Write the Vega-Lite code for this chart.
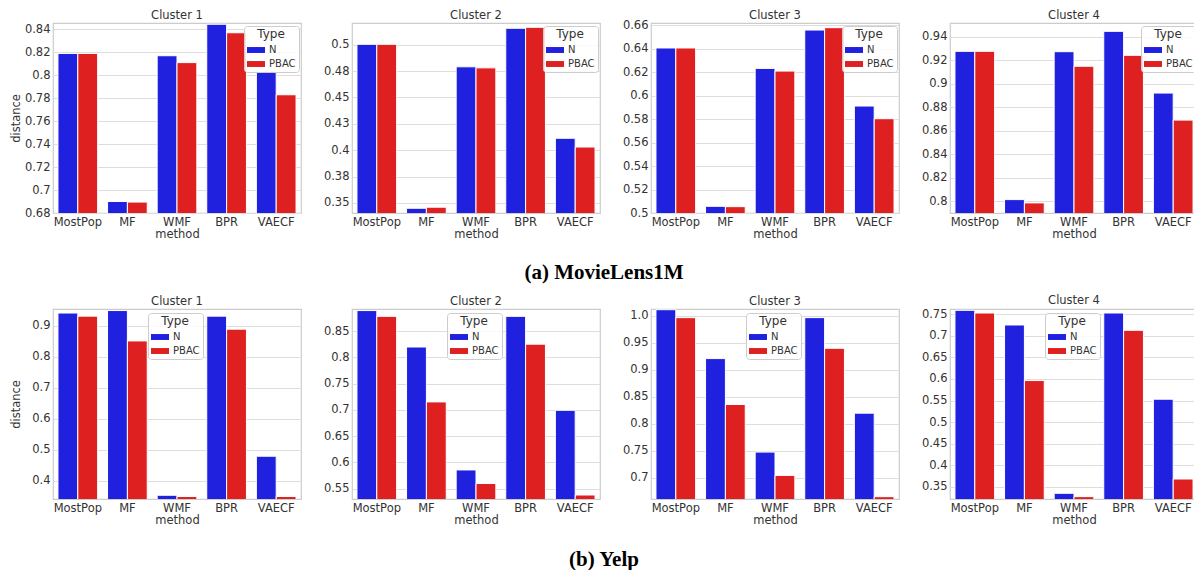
{
  "$schema": "https://vega.github.io/schema/vega-lite/v6.json",
  "padding": {"left": 9, "top": 8, "right": 0, "bottom": 0},
  "background": "white",
  "data": {"values": [
    {"dataset": "MovieLens1M", "cluster": "Cluster 1", "method": "MostPop", "type": "N", "distance": 0.819},
    {"dataset": "MovieLens1M", "cluster": "Cluster 1", "method": "MostPop", "type": "PBAC", "distance": 0.819},
    {"dataset": "MovieLens1M", "cluster": "Cluster 1", "method": "MF", "type": "N", "distance": 0.690},
    {"dataset": "MovieLens1M", "cluster": "Cluster 1", "method": "MF", "type": "PBAC", "distance": 0.6895},
    {"dataset": "MovieLens1M", "cluster": "Cluster 1", "method": "WMF", "type": "N", "distance": 0.817},
    {"dataset": "MovieLens1M", "cluster": "Cluster 1", "method": "WMF", "type": "PBAC", "distance": 0.811},
    {"dataset": "MovieLens1M", "cluster": "Cluster 1", "method": "BPR", "type": "N", "distance": 0.8444},
    {"dataset": "MovieLens1M", "cluster": "Cluster 1", "method": "BPR", "type": "PBAC", "distance": 0.837},
    {"dataset": "MovieLens1M", "cluster": "Cluster 1", "method": "VAECF", "type": "N", "distance": 0.803},
    {"dataset": "MovieLens1M", "cluster": "Cluster 1", "method": "VAECF", "type": "PBAC", "distance": 0.783},
    {"dataset": "MovieLens1M", "cluster": "Cluster 2", "method": "MostPop", "type": "N", "distance": 0.5003},
    {"dataset": "MovieLens1M", "cluster": "Cluster 2", "method": "MostPop", "type": "PBAC", "distance": 0.5003},
    {"dataset": "MovieLens1M", "cluster": "Cluster 2", "method": "MF", "type": "N", "distance": 0.345},
    {"dataset": "MovieLens1M", "cluster": "Cluster 2", "method": "MF", "type": "PBAC", "distance": 0.346},
    {"dataset": "MovieLens1M", "cluster": "Cluster 2", "method": "WMF", "type": "N", "distance": 0.479},
    {"dataset": "MovieLens1M", "cluster": "Cluster 2", "method": "WMF", "type": "PBAC", "distance": 0.478},
    {"dataset": "MovieLens1M", "cluster": "Cluster 2", "method": "BPR", "type": "N", "distance": 0.5155},
    {"dataset": "MovieLens1M", "cluster": "Cluster 2", "method": "BPR", "type": "PBAC", "distance": 0.5164},
    {"dataset": "MovieLens1M", "cluster": "Cluster 2", "method": "VAECF", "type": "N", "distance": 0.4113},
    {"dataset": "MovieLens1M", "cluster": "Cluster 2", "method": "VAECF", "type": "PBAC", "distance": 0.403},
    {"dataset": "MovieLens1M", "cluster": "Cluster 3", "method": "MostPop", "type": "N", "distance": 0.6407},
    {"dataset": "MovieLens1M", "cluster": "Cluster 3", "method": "MostPop", "type": "PBAC", "distance": 0.6407},
    {"dataset": "MovieLens1M", "cluster": "Cluster 3", "method": "MF", "type": "N", "distance": 0.5057},
    {"dataset": "MovieLens1M", "cluster": "Cluster 3", "method": "MF", "type": "PBAC", "distance": 0.5054},
    {"dataset": "MovieLens1M", "cluster": "Cluster 3", "method": "WMF", "type": "N", "distance": 0.6233},
    {"dataset": "MovieLens1M", "cluster": "Cluster 3", "method": "WMF", "type": "PBAC", "distance": 0.621},
    {"dataset": "MovieLens1M", "cluster": "Cluster 3", "method": "BPR", "type": "N", "distance": 0.656},
    {"dataset": "MovieLens1M", "cluster": "Cluster 3", "method": "BPR", "type": "PBAC", "distance": 0.658},
    {"dataset": "MovieLens1M", "cluster": "Cluster 3", "method": "VAECF", "type": "N", "distance": 0.5912},
    {"dataset": "MovieLens1M", "cluster": "Cluster 3", "method": "VAECF", "type": "PBAC", "distance": 0.5804},
    {"dataset": "MovieLens1M", "cluster": "Cluster 4", "method": "MostPop", "type": "N", "distance": 0.9275},
    {"dataset": "MovieLens1M", "cluster": "Cluster 4", "method": "MostPop", "type": "PBAC", "distance": 0.9275},
    {"dataset": "MovieLens1M", "cluster": "Cluster 4", "method": "MF", "type": "N", "distance": 0.8014},
    {"dataset": "MovieLens1M", "cluster": "Cluster 4", "method": "MF", "type": "PBAC", "distance": 0.7986},
    {"dataset": "MovieLens1M", "cluster": "Cluster 4", "method": "WMF", "type": "N", "distance": 0.9272},
    {"dataset": "MovieLens1M", "cluster": "Cluster 4", "method": "WMF", "type": "PBAC", "distance": 0.9148},
    {"dataset": "MovieLens1M", "cluster": "Cluster 4", "method": "BPR", "type": "N", "distance": 0.9445},
    {"dataset": "MovieLens1M", "cluster": "Cluster 4", "method": "BPR", "type": "PBAC", "distance": 0.9241},
    {"dataset": "MovieLens1M", "cluster": "Cluster 4", "method": "VAECF", "type": "N", "distance": 0.892},
    {"dataset": "MovieLens1M", "cluster": "Cluster 4", "method": "VAECF", "type": "PBAC", "distance": 0.869},
    {"dataset": "Yelp", "cluster": "Cluster 1", "method": "MostPop", "type": "N", "distance": 0.941},
    {"dataset": "Yelp", "cluster": "Cluster 1", "method": "MostPop", "type": "PBAC", "distance": 0.931},
    {"dataset": "Yelp", "cluster": "Cluster 1", "method": "MF", "type": "N", "distance": 0.949},
    {"dataset": "Yelp", "cluster": "Cluster 1", "method": "MF", "type": "PBAC", "distance": 0.851},
    {"dataset": "Yelp", "cluster": "Cluster 1", "method": "WMF", "type": "N", "distance": 0.353},
    {"dataset": "Yelp", "cluster": "Cluster 1", "method": "WMF", "type": "PBAC", "distance": 0.349},
    {"dataset": "Yelp", "cluster": "Cluster 1", "method": "BPR", "type": "N", "distance": 0.931},
    {"dataset": "Yelp", "cluster": "Cluster 1", "method": "BPR", "type": "PBAC", "distance": 0.889},
    {"dataset": "Yelp", "cluster": "Cluster 1", "method": "VAECF", "type": "N", "distance": 0.479},
    {"dataset": "Yelp", "cluster": "Cluster 1", "method": "VAECF", "type": "PBAC", "distance": 0.349},
    {"dataset": "Yelp", "cluster": "Cluster 2", "method": "MostPop", "type": "N", "distance": 0.889},
    {"dataset": "Yelp", "cluster": "Cluster 2", "method": "MostPop", "type": "PBAC", "distance": 0.878},
    {"dataset": "Yelp", "cluster": "Cluster 2", "method": "MF", "type": "N", "distance": 0.8196},
    {"dataset": "Yelp", "cluster": "Cluster 2", "method": "MF", "type": "PBAC", "distance": 0.715},
    {"dataset": "Yelp", "cluster": "Cluster 2", "method": "WMF", "type": "N", "distance": 0.5854},
    {"dataset": "Yelp", "cluster": "Cluster 2", "method": "WMF", "type": "PBAC", "distance": 0.5595},
    {"dataset": "Yelp", "cluster": "Cluster 2", "method": "BPR", "type": "N", "distance": 0.878},
    {"dataset": "Yelp", "cluster": "Cluster 2", "method": "BPR", "type": "PBAC", "distance": 0.825},
    {"dataset": "Yelp", "cluster": "Cluster 2", "method": "VAECF", "type": "N", "distance": 0.699},
    {"dataset": "Yelp", "cluster": "Cluster 2", "method": "VAECF", "type": "PBAC", "distance": 0.5376},
    {"dataset": "Yelp", "cluster": "Cluster 3", "method": "MostPop", "type": "N", "distance": 1.011},
    {"dataset": "Yelp", "cluster": "Cluster 3", "method": "MostPop", "type": "PBAC", "distance": 0.9963},
    {"dataset": "Yelp", "cluster": "Cluster 3", "method": "MF", "type": "N", "distance": 0.9205},
    {"dataset": "Yelp", "cluster": "Cluster 3", "method": "MF", "type": "PBAC", "distance": 0.8355},
    {"dataset": "Yelp", "cluster": "Cluster 3", "method": "WMF", "type": "N", "distance": 0.7474},
    {"dataset": "Yelp", "cluster": "Cluster 3", "method": "WMF", "type": "PBAC", "distance": 0.7043},
    {"dataset": "Yelp", "cluster": "Cluster 3", "method": "BPR", "type": "N", "distance": 0.9963},
    {"dataset": "Yelp", "cluster": "Cluster 3", "method": "BPR", "type": "PBAC", "distance": 0.9396},
    {"dataset": "Yelp", "cluster": "Cluster 3", "method": "VAECF", "type": "N", "distance": 0.8195},
    {"dataset": "Yelp", "cluster": "Cluster 3", "method": "VAECF", "type": "PBAC", "distance": 0.6649},
    {"dataset": "Yelp", "cluster": "Cluster 4", "method": "MostPop", "type": "N", "distance": 0.7593},
    {"dataset": "Yelp", "cluster": "Cluster 4", "method": "MostPop", "type": "PBAC", "distance": 0.7531},
    {"dataset": "Yelp", "cluster": "Cluster 4", "method": "MF", "type": "N", "distance": 0.7253},
    {"dataset": "Yelp", "cluster": "Cluster 4", "method": "MF", "type": "PBAC", "distance": 0.5963},
    {"dataset": "Yelp", "cluster": "Cluster 4", "method": "WMF", "type": "N", "distance": 0.3346},
    {"dataset": "Yelp", "cluster": "Cluster 4", "method": "WMF", "type": "PBAC", "distance": 0.3269},
    {"dataset": "Yelp", "cluster": "Cluster 4", "method": "BPR", "type": "N", "distance": 0.7531},
    {"dataset": "Yelp", "cluster": "Cluster 4", "method": "BPR", "type": "PBAC", "distance": 0.7129},
    {"dataset": "Yelp", "cluster": "Cluster 4", "method": "VAECF", "type": "N", "distance": 0.553},
    {"dataset": "Yelp", "cluster": "Cluster 4", "method": "VAECF", "type": "PBAC", "distance": 0.3678}
  ]},
  "config": {
    "font": "DejaVu Sans",
    "view": {"stroke": "#cccccc", "strokeWidth": 1.2},
    "axis": {"labelFont": "DejaVu Sans", "labelFontSize": 11.5, "labelColor": "#333333", "titleFont": "DejaVu Sans", "titleFontSize": 11.5, "titleFontWeight": "normal", "titleColor": "#333333", "ticks": false, "domain": false, "gridColor": "#dddddd", "gridWidth": 1.2},
    "axisX": {"labelAngle": 0, "labelPadding": 3, "titlePadding": 1, "grid": false},
    "axisY": {"labelPadding": 3, "titlePadding": 3, "minExtent": 29, "grid": true, "labelExpr": "abs(datum.value - 1) < 0.000001 ? '1.0' : format(datum.value + 0.000000001, '.2~f')"},
    "title": {"font": "DejaVu Sans", "fontSize": 11.5, "fontWeight": "normal", "color": "#333333", "offset": 2, "frame": "group"},
    "legend": {"titleFont": "DejaVu Sans", "titleFontSize": 12, "titleFontWeight": "normal", "titleColor": "#333333", "labelFont": "DejaVu Sans", "labelFontSize": 10, "labelColor": "#333333", "symbolType": "M-1,-0.33H1V0.33H-1Z", "symbolSize": 324, "symbolStrokeWidth": 0, "fillColor": "rgba(255,255,255,0.85)", "strokeColor": "#cccccc", "cornerRadius": 3, "padding": 3, "titleAnchor": "middle", "titlePadding": 0, "rowPadding": -2, "labelOffset": 4, "orient": "none"}
  },
  "resolve": {"scale": {"color": "independent"}, "legend": {"color": "independent"}},
  "spacing": 11,
  "vconcat": [
    {
      "title": {"text": "(a) MovieLens1M", "orient": "bottom", "anchor": "middle", "frame": "bounds", "offset": 21, "font": "Liberation Serif", "fontSize": 21, "fontWeight": "bold", "color": "black"},
      "bounds": "flush",
      "spacing": 51,
      "resolve": {"scale": {"color": "independent"}, "legend": {"color": "independent"}},
      "hconcat": [
        {
          "width": 248, "height": 190, "title": "Cluster 1",
          "transform": [{"filter": "datum.dataset == 'MovieLens1M' && datum.cluster == 'Cluster 1'"}],
          "mark": {"type": "bar", "clip": true, "stroke": "white", "strokeWidth": 1},
          "encoding": {
            "x": {"field": "method", "type": "nominal", "sort": ["MostPop", "MF", "WMF", "BPR", "VAECF"], "scale": {"paddingInner": 0.2, "paddingOuter": 0.1}, "axis": {"title": "method"}},
            "xOffset": {"field": "type", "type": "nominal", "sort": ["N", "PBAC"]},
            "y": {"field": "distance", "type": "quantitative", "scale": {"domain": [0.68, 0.8455], "zero": false, "nice": false}, "axis": {"title": "distance", "values": [0.68, 0.7, 0.72, 0.74, 0.76, 0.78, 0.8, 0.82, 0.84]}},
            "color": {"field": "type", "type": "nominal", "scale": {"domain": ["N", "PBAC"], "range": ["#2020df", "#df2020"]}, "legend": {"title": "Type", "legendX": 191, "legendY": 3}}
          }
        },
        {
          "width": 248, "height": 190, "title": "Cluster 2",
          "transform": [{"filter": "datum.dataset == 'MovieLens1M' && datum.cluster == 'Cluster 2'"}],
          "mark": {"type": "bar", "clip": true, "stroke": "white", "strokeWidth": 1},
          "encoding": {
            "x": {"field": "method", "type": "nominal", "sort": ["MostPop", "MF", "WMF", "BPR", "VAECF"], "scale": {"paddingInner": 0.2, "paddingOuter": 0.1}, "axis": {"title": "method"}},
            "xOffset": {"field": "type", "type": "nominal", "sort": ["N", "PBAC"]},
            "y": {"field": "distance", "type": "quantitative", "scale": {"domain": [0.3405, 0.5205], "zero": false, "nice": false}, "axis": {"title": null, "values": [0.35, 0.375, 0.4, 0.425, 0.45, 0.475, 0.5]}},
            "color": {"field": "type", "type": "nominal", "scale": {"domain": ["N", "PBAC"], "range": ["#2020df", "#df2020"]}, "legend": {"title": "Type", "legendX": 191, "legendY": 3}}
          }
        },
        {
          "width": 248, "height": 190, "title": {"text": "Cluster 3", "offset": -2},
          "transform": [{"filter": "datum.dataset == 'MovieLens1M' && datum.cluster == 'Cluster 3'"}],
          "mark": {"type": "bar", "clip": true, "stroke": "white", "strokeWidth": 1},
          "encoding": {
            "x": {"field": "method", "type": "nominal", "sort": ["MostPop", "MF", "WMF", "BPR", "VAECF"], "scale": {"paddingInner": 0.2, "paddingOuter": 0.1}, "axis": {"title": "method"}},
            "xOffset": {"field": "type", "type": "nominal", "sort": ["N", "PBAC"]},
            "y": {"field": "distance", "type": "quantitative", "scale": {"domain": [0.5, 0.662], "zero": false, "nice": false}, "axis": {"title": null, "values": [0.5, 0.52, 0.54, 0.56, 0.58, 0.6, 0.62, 0.64, 0.66]}},
            "color": {"field": "type", "type": "nominal", "scale": {"domain": ["N", "PBAC"], "range": ["#2020df", "#df2020"]}, "legend": {"title": "Type", "legendX": 191, "legendY": 3}}
          }
        },
        {
          "width": 248, "height": 190, "title": "Cluster 4",
          "transform": [{"filter": "datum.dataset == 'MovieLens1M' && datum.cluster == 'Cluster 4'"}],
          "mark": {"type": "bar", "clip": true, "stroke": "white", "strokeWidth": 1},
          "encoding": {
            "x": {"field": "method", "type": "nominal", "sort": ["MostPop", "MF", "WMF", "BPR", "VAECF"], "scale": {"paddingInner": 0.2, "paddingOuter": 0.1}, "axis": {"title": "method"}},
            "xOffset": {"field": "type", "type": "nominal", "sort": ["N", "PBAC"]},
            "y": {"field": "distance", "type": "quantitative", "scale": {"domain": [0.79, 0.9516], "zero": false, "nice": false}, "axis": {"title": null, "values": [0.8, 0.82, 0.84, 0.86, 0.88, 0.9, 0.92, 0.94]}},
            "color": {"field": "type", "type": "nominal", "scale": {"domain": ["N", "PBAC"], "range": ["#2020df", "#df2020"]}, "legend": {"title": "Type", "legendX": 191, "legendY": 3}}
          }
        }
      ]
    },
    {
      "title": {"text": "(b) Yelp", "orient": "bottom", "anchor": "middle", "frame": "bounds", "offset": 22, "font": "Liberation Serif", "fontSize": 21, "fontWeight": "bold", "color": "black"},
      "bounds": "flush",
      "spacing": 51,
      "resolve": {"scale": {"color": "independent"}, "legend": {"color": "independent"}},
      "hconcat": [
        {
          "width": 248, "height": 190, "title": "Cluster 1",
          "transform": [{"filter": "datum.dataset == 'Yelp' && datum.cluster == 'Cluster 1'"}],
          "mark": {"type": "bar", "clip": true, "stroke": "white", "strokeWidth": 1},
          "encoding": {
            "x": {"field": "method", "type": "nominal", "sort": ["MostPop", "MF", "WMF", "BPR", "VAECF"], "scale": {"paddingInner": 0.2, "paddingOuter": 0.1}, "axis": {"title": "method"}},
            "xOffset": {"field": "type", "type": "nominal", "sort": ["N", "PBAC"]},
            "y": {"field": "distance", "type": "quantitative", "scale": {"domain": [0.341, 0.954], "zero": false, "nice": false}, "axis": {"title": "distance", "values": [0.4, 0.5, 0.6, 0.7, 0.8, 0.9]}},
            "color": {"field": "type", "type": "nominal", "scale": {"domain": ["N", "PBAC"], "range": ["#2020df", "#df2020"]}, "legend": {"title": "Type", "legendX": 95, "legendY": 4}}
          }
        },
        {
          "width": 248, "height": 190, "title": "Cluster 2",
          "transform": [{"filter": "datum.dataset == 'Yelp' && datum.cluster == 'Cluster 2'"}],
          "mark": {"type": "bar", "clip": true, "stroke": "white", "strokeWidth": 1},
          "encoding": {
            "x": {"field": "method", "type": "nominal", "sort": ["MostPop", "MF", "WMF", "BPR", "VAECF"], "scale": {"paddingInner": 0.2, "paddingOuter": 0.1}, "axis": {"title": "method"}},
            "xOffset": {"field": "type", "type": "nominal", "sort": ["N", "PBAC"]},
            "y": {"field": "distance", "type": "quantitative", "scale": {"domain": [0.53, 0.892], "zero": false, "nice": false}, "axis": {"title": null, "values": [0.55, 0.6, 0.65, 0.7, 0.75, 0.8, 0.85]}},
            "color": {"field": "type", "type": "nominal", "scale": {"domain": ["N", "PBAC"], "range": ["#2020df", "#df2020"]}, "legend": {"title": "Type", "legendX": 95, "legendY": 4}}
          }
        },
        {
          "width": 248, "height": 190, "title": "Cluster 3",
          "transform": [{"filter": "datum.dataset == 'Yelp' && datum.cluster == 'Cluster 3'"}],
          "mark": {"type": "bar", "clip": true, "stroke": "white", "strokeWidth": 1},
          "encoding": {
            "x": {"field": "method", "type": "nominal", "sort": ["MostPop", "MF", "WMF", "BPR", "VAECF"], "scale": {"paddingInner": 0.2, "paddingOuter": 0.1}, "axis": {"title": "method"}},
            "xOffset": {"field": "type", "type": "nominal", "sort": ["N", "PBAC"]},
            "y": {"field": "distance", "type": "quantitative", "scale": {"domain": [0.6606, 1.0123], "zero": false, "nice": false}, "axis": {"title": null, "values": [0.7, 0.75, 0.8, 0.85, 0.9, 0.95, 1.0]}},
            "color": {"field": "type", "type": "nominal", "scale": {"domain": ["N", "PBAC"], "range": ["#2020df", "#df2020"]}, "legend": {"title": "Type", "legendX": 95, "legendY": 4}}
          }
        },
        {
          "width": 248, "height": 190, "title": "Cluster 4",
          "transform": [{"filter": "datum.dataset == 'Yelp' && datum.cluster == 'Cluster 4'"}],
          "mark": {"type": "bar", "clip": true, "stroke": "white", "strokeWidth": 1},
          "encoding": {
            "x": {"field": "method", "type": "nominal", "sort": ["MostPop", "MF", "WMF", "BPR", "VAECF"], "scale": {"paddingInner": 0.2, "paddingOuter": 0.1}, "axis": {"title": "method"}},
            "xOffset": {"field": "type", "type": "nominal", "sort": ["N", "PBAC"]},
            "y": {"field": "distance", "type": "quantitative", "scale": {"domain": [0.3214, 0.7624], "zero": false, "nice": false}, "axis": {"title": null, "values": [0.35, 0.4, 0.45, 0.5, 0.55, 0.6, 0.65, 0.7, 0.75]}},
            "color": {"field": "type", "type": "nominal", "scale": {"domain": ["N", "PBAC"], "range": ["#2020df", "#df2020"]}, "legend": {"title": "Type", "legendX": 95, "legendY": 4}}
          }
        }
      ]
    }
  ]
}
